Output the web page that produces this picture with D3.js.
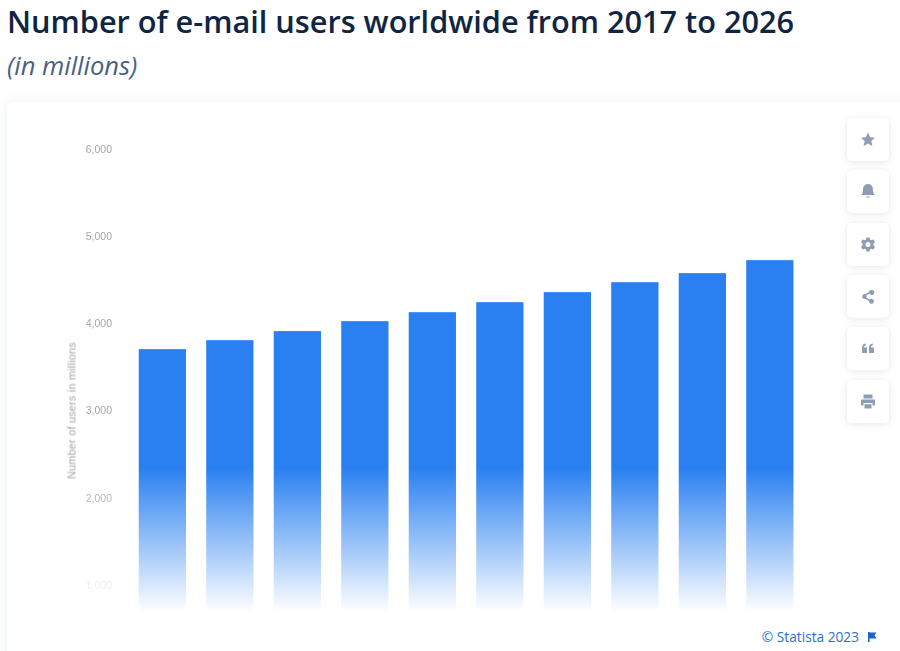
<!DOCTYPE html>
<html>
<head>
<meta charset="utf-8">
<script src="https://cdn.jsdelivr.net/npm/d3@7"></script>
<style>
  html, body { margin: 0; padding: 0; background: #fff; }
  text { font-family: "Open Sans", "Noto Sans", sans-serif; }
  .tick text, .y-title { font-family: "Liberation Sans", Arial, sans-serif; }
</style>
</head>
<body>
<div id="chart"></div>
<script>
const years = ["2017","2018","2019","2020","2021","2022","2023","2024","2025","2026"];
const users = [3704, 3807, 3911, 4025, 4128, 4243, 4358, 4472, 4576, 4725];
const yTicks = [1000, 2000, 3000, 4000, 5000, 6000];

const width = 900, height = 651;

const svg = d3.select("#chart")
  .append("svg")
    .attr("width", width)
    .attr("height", height)
    .style("display", "block");

const defs = svg.append("defs");

const shadow = defs.append("filter").attr("id", "cardShadow")
    .attr("x", "-5%").attr("y", "-5%").attr("width", "110%").attr("height", "110%");
shadow.append("feDropShadow")
    .attr("dx", 0).attr("dy", 0).attr("stdDeviation", 6)
    .attr("flood-color", "#8a9bb5").attr("flood-opacity", 0.16);

const btnShadow = defs.append("filter").attr("id", "btnShadow")
    .attr("x", "-30%").attr("y", "-30%").attr("width", "160%").attr("height", "160%");
btnShadow.append("feDropShadow")
    .attr("dx", 0).attr("dy", 1).attr("stdDeviation", 3)
    .attr("flood-color", "#7a8ba8").attr("flood-opacity", 0.22);

// the reference is a soft screenshot, a very small blur gets closer to it
const soft = defs.append("filter").attr("id", "soft")
    .attr("x", "-5%").attr("y", "-5%").attr("width", "110%").attr("height", "110%");
soft.append("feGaussianBlur").attr("stdDeviation", 0.35);

// white fade over the lower part of the chart, it also washes out the ticks
const fade = defs.append("linearGradient").attr("id", "fade")
    .attr("x1", 0).attr("x2", 0).attr("y1", 0).attr("y2", 1);
fade.append("stop").attr("offset", "0%").attr("stop-color", "#fff").attr("stop-opacity", 0);
fade.append("stop").attr("offset", "50%").attr("stop-color", "#fff").attr("stop-opacity", 0.5);
fade.append("stop").attr("offset", "100%").attr("stop-color", "#fff").attr("stop-opacity", 1);

// title block
svg.append("text")
    .attr("x", 7).attr("y", 33)
    .attr("font-size", 30.7).attr("font-weight", 600)
    .attr("fill", "#0f2542")
    .text("Number of e-mail users worldwide from 2017 to 2026");

svg.append("text")
    .attr("x", 7).attr("y", 75)
    .attr("font-size", 25.5).attr("font-style", "italic")
    .attr("fill", "#4a6080")
    .text("(in millions)");

// card
svg.append("rect")
    .attr("x", 7).attr("y", 102)
    .attr("width", 920).attr("height", 600)
    .attr("rx", 6)
    .attr("fill", "#fff")
    .attr("filter", "url(#cardShadow)");

const x = d3.scaleBand()
    .domain(years)
    .range([128.6, 803.6])
    .paddingInner(0.3)
    .paddingOuter(0.15);

const y = d3.scaleLinear()
    .domain([0, 6000])
    .range([672, 149]);

const yAxis = svg.append("g")
    .attr("transform", "translate(112,0)")
    .attr("filter", "url(#soft)")
    .call(d3.axisLeft(y).tickValues(yTicks).tickSize(0).tickPadding(0).tickFormat(d3.format(",")));
yAxis.select(".domain").remove();
yAxis.selectAll("text")
    .attr("font-size", 10.5)
    .attr("fill", "#a6a6a6");

svg.append("text")
    .attr("class", "y-title")
    .attr("transform", "translate(75.5,410.5) rotate(-90)")
    .attr("text-anchor", "middle")
    .attr("font-size", 10.8)
    .attr("letter-spacing", 0.25)
    .attr("fill", "#a3a3a3")
    .attr("filter", "url(#soft)")
    .text("Number of users in millions");

svg.append("g")
    .attr("filter", "url(#soft)")
  .selectAll(".bar")
  .data(users)
  .enter()
  .append("rect")
    .attr("class", "bar")
    .attr("x", (d, i) => x(years[i]))
    .attr("y", d => y(d))
    .attr("width", x.bandwidth())
    .attr("height", d => y(0) - y(d))
    .attr("fill", "#2a80f1");

svg.append("rect")
    .attr("x", 60).attr("y", 468)
    .attr("width", 760).attr("height", 144)
    .attr("fill", "url(#fade)");
svg.append("rect")
    .attr("x", 60).attr("y", 612)
    .attr("width", 760).attr("height", 70)
    .attr("fill", "#fff");

// side buttons
const buttonTops = [118, 170, 223, 275, 327, 380];
const iconPaths = [
  "M0,-7 L2.1,-2.3 L7,-1.8 L3.3,1.5 L4.4,6.5 L0,3.9 L-4.4,6.5 L-3.3,1.5 L-7,-1.8 L-2.1,-2.3 Z",
  "M0,-7.5 C3.8,-7.5 5,-4.4 5,-1.5 C5,1 6,2.4 6.8,3.6 L-6.8,3.6 C-6,2.4 -5,1 -5,-1.5 C-5,-4.4 -3.8,-7.5 0,-7.5 Z M-2,5 L2,5 C1.6,6.6 -1.6,6.6 -2,5 Z",
  "M-1.6,-7 L1.6,-7 L2,-5 L3.6,-4.2 L5.5,-5 L7,-2.4 L5.5,-1 L5.5,1 L7,2.4 L5.5,5 L3.6,4.2 L2,5 L1.6,7 L-1.6,7 L-2,5 L-3.6,4.2 L-5.5,5 L-7,2.4 L-5.5,1 L-5.5,-1 L-7,-2.4 L-5.5,-5 L-3.6,-4.2 L-2,-5 Z M0,-2.5 A2.5,2.5 0 1 0 0,2.5 A2.5,2.5 0 1 0 0,-2.5 Z",
  "M3.8,-6.5 A2.5,2.5 0 1 1 1.6,-3 L-1.6,-1.2 A2.5,2.5 0 0 1 -1.6,1.2 L1.6,3 A2.5,2.5 0 1 1 0.9,4.4 L-2.6,2.4 A2.5,2.5 0 1 1 -2.6,-2.4 L0.9,-4.4 A2.5,2.5 0 0 1 3.8,-6.5 Z",
  "M-6,4.5 L-6,-0.5 C-6,-3.2 -4.6,-4.8 -2.2,-5 L-2.2,-3.2 C-3.4,-3 -4,-2.4 -4,-1 L-1,-1 L-1,4.5 Z M1,4.5 L1,-0.5 C1,-3.2 2.4,-4.8 4.8,-5 L4.8,-3.2 C3.6,-3 3,-2.4 3,-1 L6,-1 L6,4.5 Z",
  "M-4.5,-7 L4.5,-7 L4.5,-3 L-4.5,-3 Z M-7,-2 L7,-2 L7,4 L4.5,4 L4.5,1.5 L-4.5,1.5 L-4.5,4 L-7,4 Z M-3.5,2.8 L3.5,2.8 L3.5,7 L-3.5,7 Z"
];

const buttons = svg.selectAll(".side-button")
  .data(buttonTops)
  .enter()
  .append("g")
    .attr("class", "side-button")
    .attr("transform", d => `translate(847,${d})`);

buttons.append("rect")
    .attr("width", 42).attr("height", 43)
    .attr("rx", 5)
    .attr("fill", "#fff")
    .attr("filter", "url(#btnShadow)");

buttons.append("path")
    .attr("transform", "translate(21,21.5)")
    .attr("d", (d, i) => iconPaths[i])
    .attr("fill-rule", "evenodd")
    .attr("fill", "#8e9db3");

// footer
svg.append("text")
    .attr("x", 859).attr("y", 642)
    .attr("text-anchor", "end")
    .attr("font-size", 13.7)
    .attr("fill", "#2a6fd0")
    .text("© Statista 2023");

svg.append("path")
    .attr("transform", "translate(868,632)")
    .attr("d", "M0,0 L1.6,0 L1.6,0.6 L8.5,0.6 L6.5,3.2 L8.5,6.4 L1.6,6.4 L1.6,10 L0,10 Z")
    .attr("fill", "#1f63c4");
</script>
</body>
</html>
